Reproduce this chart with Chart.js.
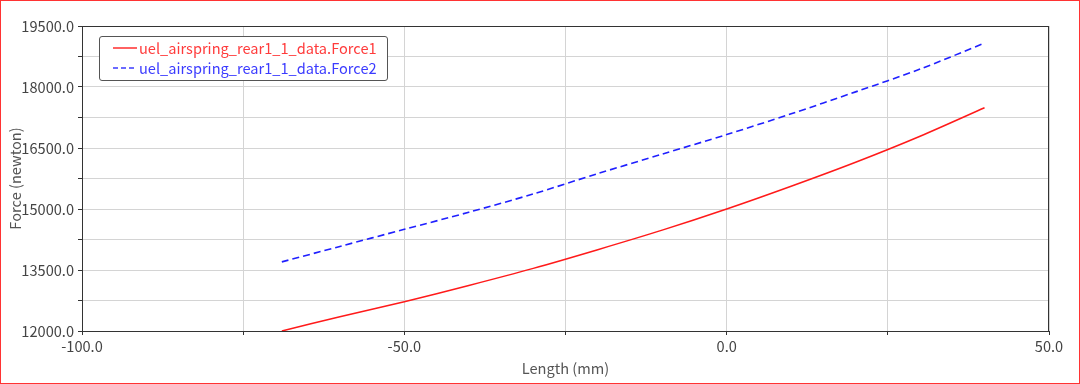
<!DOCTYPE html>
<html>
<head>
<meta charset="utf-8">
<script src="https://cdn.jsdelivr.net/npm/chart.js@4.4.1/dist/chart.umd.min.js"></script>
<style>
  html, body { margin: 0; padding: 0; background: #fff; }
  #wrap { position: relative; width: 1080px; height: 384px; box-sizing: border-box; border: 1px solid #f33; }
  #chart { position: absolute; left: 0; top: 0; }
  #legend { position: absolute; left: 98px; top: 35px; width: 289px; height: 45px; box-sizing: border-box;
    border: 1px solid #555; border-radius: 3px; background: #fff;
    font: 14.6px "Noto Sans CJK JP", "Noto Sans", sans-serif; line-height: 20px; padding: 1px 0 0 13px; }
  #legend .row { display: flex; align-items: center; white-space: nowrap; }
  #legend svg { margin-right: 2px; }
</style>
</head>
<body>
<div id="wrap">
  <canvas id="chart" width="1078" height="382"></canvas>
  <div id="legend"></div>
</div>
<script>
const lengths = [-69, -60, -50, -40, -30, -20, -10, 0, 10, 20, 30, 40];
const force1 = [12000, 12350, 12720, 13120, 13540, 14000, 14480, 15000, 15560, 16150, 16790, 17490];
const force2 = [13700, 14080, 14500, 14920, 15370, 15870, 16350, 16830, 17340, 17880, 18440, 19080];
const seriesNames = ['uel_airspring_rear1_1_data.Force1', 'uel_airspring_rear1_1_data.Force2'];
const xLabeled = [-100, -50, 0, 50];
const yLabeled = [12000, 13500, 15000, 16500, 18000, 19500];

const tickFont = { family: '"Noto Sans CJK JP", "Noto Sans", sans-serif', size: 14.6 };

function points(ys) {
  return lengths.map((x, i) => ({ x: x, y: ys[i] }));
}

// frame around the plot area (top and right edges)
const frame = {
  id: 'frame',
  afterDraw(chart) {
    const a = chart.chartArea, ctx = chart.ctx;
    ctx.save();
    ctx.strokeStyle = '#333';
    ctx.lineWidth = 1;
    ctx.strokeRect(a.left + 0.5, a.top + 0.5, a.right - a.left - 1, a.bottom - a.top);
    ctx.restore();
  }
};

const chart = new Chart(document.getElementById('chart'), {
  type: 'line',
  data: {
    datasets: [{
      label: seriesNames[0],
      data: points(force1),
      borderColor: '#ff1a1a',
      borderWidth: 1.5,
      pointRadius: 0,
      tension: 0.3,
      fill: false
    }, {
      label: seriesNames[1],
      data: points(force2),
      borderColor: '#2020ff',
      borderWidth: 1.6,
      borderDash: [7, 4],
      pointRadius: 0,
      tension: 0.3,
      fill: false
    }]
  },
  options: {
    responsive: false,
    animation: false,
    layout: { padding: { left: 0, top: 25, right: 30, bottom: 0 } },
    plugins: { legend: { display: false }, tooltip: { enabled: false } },
    scales: {
      x: {
        type: 'linear',
        min: -100,
        max: 50,
        afterBuildTicks(s) { s.ticks = [-100, -75, -50, -25, 0, 25, 50].map(v => ({ value: v })); },
        afterFit(s) { s.height = 52; },
        ticks: {
          color: '#444',
          font: tickFont,
          padding: 3,
          maxRotation: 0,
          autoSkip: false,
          callback: v => xLabeled.includes(v) ? v.toFixed(1) : ''
        },
        grid: { color: '#d4d4d4', tickColor: '#333', tickLength: 4 },
        border: { color: '#333' },
        title: { display: true, text: 'Length (mm)', color: '#555', font: tickFont, padding: { top: 4, bottom: 6 } }
      },
      y: {
        min: 12000,
        max: 19500,
        afterBuildTicks(s) {
          const t = [];
          for (let v = 12000; v <= 19500; v += 750) t.push({ value: v });
          s.ticks = t;
        },
        afterFit(s) { s.width = 81; },
        ticks: {
          color: '#444',
          font: tickFont,
          padding: 4,
          autoSkip: false,
          callback: v => yLabeled.includes(v) ? v.toFixed(1) : ''
        },
        grid: { color: '#d4d4d4', tickColor: '#333', tickLength: 4 },
        border: { color: '#333' },
        title: { display: true, text: 'Force (newton)', color: '#555', font: tickFont, padding: { top: 6, bottom: 0 } }
      }
    }
  },
  plugins: [frame]
});

// legend as real text over the plot
const legend = document.getElementById('legend');
const legendColors = ['#ff3b3b', '#3b3bff'];
const legendDash = ['', '5 3'];
seriesNames.forEach((name, i) => {
  const row = document.createElement('div');
  row.className = 'row';
  row.style.color = legendColors[i];
  row.innerHTML = '<svg width="24" height="6"><line x1="0" y1="3" x2="24" y2="3" stroke="' + legendColors[i] +
    '" stroke-width="1.6" stroke-dasharray="' + legendDash[i] + '"/></svg>';
  row.appendChild(document.createTextNode(name));
  legend.appendChild(row);
});
</script>
</body>
</html>
